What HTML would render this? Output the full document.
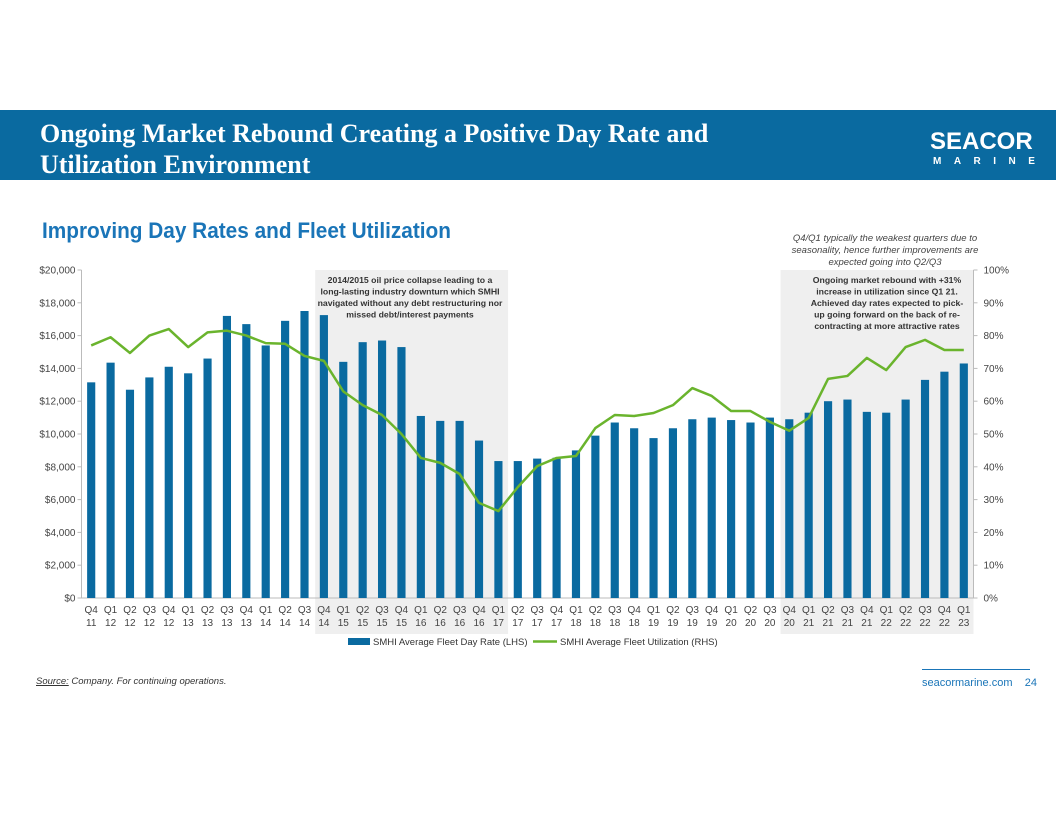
<!DOCTYPE html>
<html><head><meta charset="utf-8"><style>
body{margin:0;width:1056px;height:816px;background:#fff;position:relative;overflow:hidden;font-family:"Liberation Sans",sans-serif}
.abs{position:absolute}
</style></head><body>
<div class="abs" style="left:0;top:110px;width:1056px;height:70px;background:#0a6aa0"></div>
<div class="abs" style="left:40px;top:118px;color:#fff;font-family:'Liberation Serif',serif;font-weight:bold;font-size:26px;line-height:31px">Ongoing Market Rebound Creating a Positive Day Rate and<br>Utilization Environment</div>
<div class="abs" style="left:930px;top:130px;color:#fff;font-weight:bold;font-size:24px;line-height:24px;letter-spacing:0px">SEACOR</div>
<div class="abs" style="left:933px;top:156px;color:#fff;font-weight:bold;font-size:10px;letter-spacing:12.5px">MARINE</div>
<div class="abs" style="left:42px;top:218px;color:#1a75b8;font-weight:bold;font-size:22px;transform:scaleX(0.945);transform-origin:left top;white-space:nowrap">Improving Day Rates and Fleet Utilization</div>
<div class="abs" style="left:780px;top:233px;width:210px;text-align:center;color:#444;font-style:italic;font-size:9.5px;line-height:12px">Q4/Q1 typically the weakest quarters due to seasonality, hence further improvements are expected going into Q2/Q3</div>
<svg class="abs" style="left:0;top:0" width="1056" height="816" id="chart"></svg>
<div class="abs" style="left:36px;top:676px;font-size:9.5px;color:#333;font-style:italic"><u>Source:</u> Company. For continuing operations.</div>
<div class="abs" style="left:922px;top:669px;width:108px;height:1px;background:#1a75b8"></div>
<div class="abs" style="left:922px;top:677px;font-size:11px;color:#1a75b8">seacormarine.com&nbsp;&nbsp;&nbsp; 24</div>
<script>
const quarters=["Q4","Q1","Q2","Q3","Q4","Q1","Q2","Q3","Q4","Q1","Q2","Q3","Q4","Q1","Q2","Q3","Q4","Q1","Q2","Q3","Q4","Q1","Q2","Q3","Q4","Q1","Q2","Q3","Q4","Q1","Q2","Q3","Q4","Q1","Q2","Q3","Q4","Q1","Q2","Q3","Q4","Q1","Q2","Q3","Q4","Q1"];
const years=["11","12","12","12","12","13","13","13","13","14","14","14","14","15","15","15","15","16","16","16","16","17","17","17","17","18","18","18","18","19","19","19","19","20","20","20","20","21","21","21","21","22","22","22","22","23"];
const dayRate=[13150,14350,12700,13450,14100,13700,14600,17200,16700,15400,16900,17500,17250,14400,15600,15700,15300,11100,10800,10800,9600,8350,8350,8500,8550,9000,9900,10700,10350,9750,10350,10900,11000,10850,10700,11000,10900,11300,12000,12100,11350,11300,12100,13300,13800,14300];
const utilization=[77,79.5,74.7,80,82,76.5,81,81.5,80,77.7,77.5,73.8,72.3,63,58.8,55.8,50,42.7,41.2,37.8,29,26.5,33.8,40.2,42.7,43.3,51.8,55.8,55.5,56.4,58.8,64,61.6,57,57,53.7,51,54.9,66.8,67.7,73.2,69.5,76.5,78.7,75.6,75.6];
const leftTicks=["$0","$2,000","$4,000","$6,000","$8,000","$10,000","$12,000","$14,000","$16,000","$18,000","$20,000"];
const rightTicks=["0%","10%","20%","30%","40%","50%","60%","70%","80%","90%","100%"];
const shadeRanges=[[12,21],[36,45]];
const svg=document.getElementById('chart');const NS="http://www.w3.org/2000/svg";
const X0=81.5,X1=973.5,Y0=598,Y1=270,n=quarters.length,bw=(X1-X0)/n;
const xc=i=>X0+bw*(i+0.5);const yL=v=>Y0-(v/20000)*(Y0-Y1);const yR=v=>Y0-(v/100)*(Y0-Y1);
function mk(t,a,txt){const e=document.createElementNS(NS,t);for(const k in a)e.setAttribute(k,a[k]);if(txt!=null)e.textContent=txt;svg.appendChild(e);return e;}
shadeRanges.forEach((r,k)=>{const e=mk('rect',{x:X0+bw*r[0]+bw*0.05,y:Y1,width:bw*(r[1]-r[0]+1)-bw*0.05,height:Y0-Y1+36,fill:'#efefef'});

});
const notes=[[410,["2014/2015 oil price collapse leading to a","long-lasting industry downturn which SMHI","navigated without any debt restructuring nor","missed debt/interest payments"]],[887,["Ongoing market rebound with +31%","increase in utilization since Q1 21.","Achieved day rates expected to pick-","up going forward on the back of re-","contracting at more attractive rates"]]];
notes.forEach((nt,k)=>nt[1].forEach((l,j)=>{const e=mk('text',{x:nt[0],y:283+j*11.5,'text-anchor':'middle','font-size':8.7,'font-weight':'bold',fill:'#333'},l);

}));
let a=mk('line',{x1:X0,x2:X0,y1:Y1,y2:Y0,stroke:'#bbb'});
a=mk('line',{x1:X1,x2:X1,y1:Y1,y2:Y0,stroke:'#bbb'});
a=mk('line',{x1:X0,x2:X1,y1:Y0,y2:Y0,stroke:'#bbb'});
leftTicks.forEach((t,i)=>{const y=Y0-i*(Y0-Y1)/10;mk('line',{x1:X0-4,x2:X0,y1:y,y2:y,stroke:'#bbb'});
const e=mk('text',{x:X0-6,y:y+3.5,'text-anchor':'end','font-size':10,fill:'#444'},t);

});
rightTicks.forEach((t,i)=>{const y=Y0-i*(Y0-Y1)/10;mk('line',{x1:X1,x2:X1+4,y1:y,y2:y,stroke:'#bbb'});
const e=mk('text',{x:X1+10,y:y+3.5,'font-size':10,fill:'#444'},t);

});
dayRate.forEach((v,i)=>{const w=bw*0.42;const e=mk('rect',{x:xc(i)-w/2,y:yL(v),width:w,height:Y0-yL(v),fill:'#0a6aa0'});


const q=mk('text',{x:xc(i),y:613,'text-anchor':'middle','font-size':10,fill:'#444'},quarters[i]);


const yy=mk('text',{x:xc(i),y:626,'text-anchor':'middle','font-size':10,fill:'#444'},years[i]);

});
const ln=mk('polyline',{points:utilization.map((v,i)=>xc(i)+','+yR(v)).join(' '),fill:'none',stroke:'#6ab42d','stroke-width':2.5,'stroke-linejoin':'round'});


let l=mk('rect',{x:348,y:638,width:22,height:7,fill:'#0a6aa0'});
l=mk('text',{x:373,y:645,'font-size':9.5,fill:'#333'},'SMHI Average Fleet Day Rate (LHS)');
l=mk('line',{x1:533,x2:557,y1:641.5,y2:641.5,stroke:'#6ab42d','stroke-width':2.5});
l=mk('text',{x:560,y:645,'font-size':9.5,fill:'#333'},'SMHI Average Fleet Utilization (RHS)');
</script>
</body></html>
